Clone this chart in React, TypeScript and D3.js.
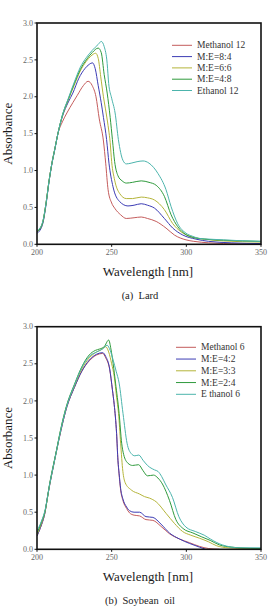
import React from "react";
import * as d3 from "d3";

type Pt = [number, number];

// ---- Lard (a) ----
const lardMethanol12: Pt[] = [
  [200, 0.17], [202, 0.21], [204, 0.31], [206, 0.55], [208, 0.85], [210, 1.1], [212, 1.3],
  [214, 1.5], [217, 1.66], [220, 1.78], [224, 1.92], [227, 2.02], [231, 2.15], [234.2, 2.21],
  [237, 2.15], [239.5, 2.0], [241.7, 1.7], [244.5, 1.4], [246, 1.1], [247.6, 0.74], [250, 0.56],
  [252, 0.49], [256, 0.4], [259.8, 0.35], [265, 0.36], [269.8, 0.37], [274, 0.35], [279.8, 0.31],
  [286.4, 0.22], [292, 0.126], [299.8, 0.06], [305, 0.04], [315, 0.02], [325, 0.01], [350, 0.0],
];
const lardME84: Pt[] = [
  [200, 0.15], [202, 0.19], [204, 0.29], [206, 0.53], [208, 0.84], [210, 1.09], [212, 1.29],
  [214, 1.5], [217, 1.73], [221, 1.93], [224, 2.05], [228, 2.25], [232, 2.38], [235, 2.44],
  [237.1, 2.46], [239, 2.38], [241, 2.15], [243, 1.92], [244.5, 1.72], [246.6, 1.42], [248.2, 1.1],
  [250.9, 0.78], [255.3, 0.58], [260.9, 0.52], [265, 0.53], [269.8, 0.55], [274, 0.53],
  [278.7, 0.49], [285.3, 0.35], [290.9, 0.22], [297.6, 0.126], [306.4, 0.07], [315, 0.04],
  [330, 0.02], [350, 0.01],
];
const lardME66: Pt[] = [
  [200, 0.17], [202, 0.21], [204, 0.31], [206, 0.55], [208, 0.85], [210, 1.1], [212, 1.3],
  [214, 1.5], [217, 1.74], [221, 1.96], [225, 2.16], [229, 2.35], [233, 2.48], [236, 2.55],
  [239.3, 2.59], [241, 2.52], [242.7, 2.27], [244.5, 2.0], [246.3, 1.78], [248, 1.55],
  [249, 1.38], [250, 1.12], [252, 0.87], [255.3, 0.69], [259.8, 0.62], [264, 0.62], [269.8, 0.64],
  [274, 0.63], [278.7, 0.6], [285.3, 0.47], [290.9, 0.28], [296.4, 0.17], [304, 0.1], [312, 0.07],
  [325, 0.045], [350, 0.03],
];
const lardME48: Pt[] = [
  [200, 0.17], [202, 0.21], [204, 0.31], [206, 0.55], [208, 0.85], [210, 1.1], [212, 1.3],
  [214, 1.5], [217, 1.75], [221, 1.97], [225, 2.18], [229, 2.37], [233, 2.5], [237, 2.6],
  [241, 2.66], [243, 2.6], [245, 2.3], [247, 2.05], [249, 1.72], [250.5, 1.42], [252, 1.12],
  [254.2, 0.93], [257, 0.86], [259.8, 0.83], [264, 0.84], [269.8, 0.86], [275, 0.84], [279.8, 0.8],
  [285.3, 0.65], [289.8, 0.4], [294.2, 0.24], [299.8, 0.13], [305, 0.09], [312, 0.07],
  [325, 0.055], [350, 0.04],
];
const lardEthanol12: Pt[] = [
  [200, 0.19], [202, 0.22], [204, 0.32], [206, 0.55], [208, 0.85], [210, 1.1], [212, 1.3],
  [214, 1.5], [217, 1.75], [221, 1.98], [225, 2.2], [229, 2.4], [233, 2.53], [237, 2.63],
  [241, 2.71], [243, 2.75], [245, 2.68], [247, 2.45], [248, 2.18], [250, 1.98], [252.3, 1.78],
  [254.5, 1.42], [257.5, 1.14], [259.8, 1.09], [263, 1.1], [267, 1.12], [271, 1.13], [275, 1.1],
  [281, 0.96], [286.4, 0.74], [289.8, 0.51], [294.2, 0.28], [299.8, 0.15], [304, 0.11],
  [308.7, 0.08], [315, 0.07], [325, 0.06], [335, 0.05], [350, 0.04],
];

// ---- Soybean oil (b) ----
const soyMethanol6: Pt[] = [
  [200, 0.18], [201.3, 0.24], [203, 0.33], [205.3, 0.49], [207, 0.7], [208.7, 0.89], [211, 1.12],
  [213, 1.32], [216, 1.6], [220, 1.92], [225, 2.18], [230, 2.4], [235, 2.54], [240, 2.62],
  [244, 2.64], [246, 2.58], [248.7, 2.42], [250.5, 2.15], [251.7, 1.95], [253.3, 1.56],
  [254.2, 1.2], [255, 1.0], [256, 0.8], [257.5, 0.66], [260, 0.55], [262, 0.49], [265, 0.46],
  [268.7, 0.45], [273, 0.4], [277.6, 0.39], [283, 0.31], [288.7, 0.21], [295.3, 0.14],
  [302, 0.09], [308.7, 0.04], [315, 0.01], [322, 0.0],
];
const soyME42: Pt[] = [
  [200, 0.18], [201.3, 0.24], [203, 0.33], [205.3, 0.49], [207, 0.7], [208.7, 0.89], [211, 1.12],
  [213, 1.32], [216, 1.6], [220, 1.92], [225, 2.18], [230, 2.4], [235, 2.55], [240, 2.63],
  [244, 2.65], [246, 2.6], [248.7, 2.43], [250.5, 2.15], [251.7, 1.95], [253.3, 1.56],
  [254.2, 1.2], [255, 1.02], [256, 0.82], [257.5, 0.68], [260, 0.57], [262, 0.52], [265, 0.5],
  [268.7, 0.5], [273, 0.44], [277.6, 0.43], [283, 0.34], [288.7, 0.22], [295.3, 0.14],
  [302, 0.08], [308.7, 0.03], [313, 0.0],
];
const soyME33: Pt[] = [
  [200, 0.2], [201.3, 0.26], [203, 0.35], [205.3, 0.5], [208.7, 0.9], [213, 1.32], [216, 1.62],
  [220, 1.94], [225, 2.2], [230, 2.43], [235, 2.58], [240, 2.66], [243, 2.69], [246, 2.73],
  [248, 2.66], [250, 2.5], [251.7, 2.33], [253.3, 2.05], [254.6, 1.83], [256, 1.43],
  [257.5, 1.05], [259, 0.9], [263.1, 0.8], [268.7, 0.745], [272, 0.71], [275.3, 0.69],
  [279.8, 0.64], [286.4, 0.485], [292, 0.35], [297.5, 0.24], [303, 0.19], [308.7, 0.15],
  [315, 0.1], [320, 0.05], [328, 0.02], [340, 0.01], [350, 0.01],
];
const soyME24: Pt[] = [
  [200, 0.22], [201.3, 0.28], [203, 0.37], [205.3, 0.51], [208.7, 0.91], [213, 1.33], [216, 1.63],
  [220, 1.95], [225, 2.22], [230, 2.46], [235, 2.62], [239, 2.68], [242, 2.7], [245, 2.73],
  [248, 2.82], [249.5, 2.7], [251, 2.5], [252.6, 2.24], [255, 1.83], [256.7, 1.43], [258, 1.28],
  [260.9, 1.16], [264, 1.13], [268, 1.14], [271, 1.06], [274, 0.99], [278, 1.0], [281, 0.96],
  [284, 0.88], [288.7, 0.66], [293, 0.4], [297.8, 0.28], [304.4, 0.22], [310, 0.17], [316, 0.12],
  [322, 0.06], [330, 0.03], [336, 0.02], [350, 0.01],
];
const soyEthanol6: Pt[] = [
  [200, 0.25], [201.3, 0.3], [203, 0.38], [205.3, 0.52], [208.7, 0.9], [213, 1.32], [216, 1.62],
  [220, 1.94], [225, 2.21], [230, 2.45], [235, 2.6], [240, 2.66], [244, 2.7], [247, 2.75],
  [249, 2.68], [251, 2.55], [253, 2.4], [255, 2.24], [257.6, 1.83], [260.3, 1.43], [263.1, 1.29],
  [265.5, 1.26], [268.2, 1.27], [271, 1.2], [274, 1.13], [278.7, 1.07], [281, 1.05],
  [283.5, 0.98], [286, 0.88], [290.7, 0.7], [295, 0.44], [299.7, 0.3], [306, 0.24], [312, 0.19],
  [316, 0.14], [324, 0.06], [336, 0.02], [350, 0.02],
];

const lardLabels = ["Methanol 12", "M:E=8:4", "M:E=6:6", "M:E=4:8", "Ethanol 12"];
const soyLabels = ["Methanol 6", "M:E=4:2", "M:E=3:3", "M:E=2:4", "E thanol 6"];
const colors = ["#c45c5c", "#3c3cb4", "#b4b43a", "#2f9a3c", "#4cb4ac"];

const xTicks = [200, 250, 300, 350];
const yTicks = [0, 0.5, 1, 1.5, 2, 2.5, 3];

const serif = "Liberation Serif, Times New Roman, serif";

interface PanelProps {
  id: string;
  top: number;
  bottom: number;
  series: Pt[][];
  labels: string[];
  legendX: number;
  legendY: number;
  legendGap: number;
  caption: string;
}

function Panel({ id, top, bottom, series, labels, legendX, legendY, legendGap, caption }: PanelProps) {
  const left = 37;
  const right = 261;
  const x = d3.scaleLinear().domain([200, 350]).range([left, right]);
  const y = d3.scaleLinear().domain([0, 3]).range([bottom, top]);
  const line = d3
    .line<Pt>()
    .x((d) => x(d[0]))
    .y((d) => y(d[1]))
    .curve(d3.curveMonotoneX);

  return (
    <g style={{ fontFamily: serif }}>
      <defs>
        <clipPath id={id}>
          <rect x={left} y={top} width={right - left} height={bottom - top} />
        </clipPath>
      </defs>
      <g clipPath={`url(#${id})`}>
        {series.map((s, i) => (
          <path key={i} d={line(s) ?? ""} fill="none" stroke={colors[i]} strokeWidth={1} />
        ))}
      </g>
      <rect x={left} y={top} width={right - left} height={bottom - top} fill="none" stroke="#111" strokeWidth={1.6} />
      {yTicks.map((t) => (
        <g key={t}>
          <line x1={left - 2.5} x2={left} y1={y(t)} y2={y(t)} stroke="#111" strokeWidth={1} />
          <text x={left - 4} y={y(t)} dy="0.33em" textAnchor="end" fontSize={8} fill="#666">
            {t.toFixed(1)}
          </text>
        </g>
      ))}
      {xTicks.map((t) => (
        <g key={t}>
          <line x1={x(t)} x2={x(t)} y1={bottom} y2={bottom + 2.5} stroke="#111" strokeWidth={1} />
          <text x={x(t)} y={bottom + 11} textAnchor="middle" fontSize={8} fill="#666">
            {t}
          </text>
        </g>
      ))}
      <text x={(left + right) / 2 - 1} y={bottom + 32} textAnchor="middle" fontSize={13} fill="#1a1a1a">
        Wavelength [nm]
      </text>
      <text
        transform={`translate(12,${(top + bottom) / 2}) rotate(-90)`}
        textAnchor="middle"
        fontSize={13}
        fill="#1a1a1a"
      >
        Absorbance
      </text>
      {labels.map((lab, i) => (
        <g key={lab}>
          <line
            x1={legendX}
            x2={legendX + 20}
            y1={legendY + i * legendGap}
            y2={legendY + i * legendGap}
            stroke={colors[i]}
            strokeWidth={1}
          />
          <text x={legendX + 25} y={legendY + i * legendGap} dy="0.33em" fontSize={9.5} fill="#333">
            {lab}
          </text>
        </g>
      ))}
      <text
        x={(left + right) / 2 - 9}
        y={bottom + 55}
        textAnchor="middle"
        fontSize={10.5}
        fill="#222"
        style={{ whiteSpace: "pre" }}
      >
        {caption}
      </text>
    </g>
  );
}

export default function App() {
  return (
    <svg
      width={271}
      height={608}
      style={{ position: "absolute", left: 0, top: 0, background: "#fff" }}
    >
      <Panel
        id="clipA"
        top={23}
        bottom={244.3}
        series={[lardMethanol12, lardME84, lardME66, lardME48, lardEthanol12]}
        labels={lardLabels}
        legendX={172}
        legendY={45.3}
        legendGap={11.3}
        caption="(a)  Lard"
      />
      <Panel
        id="clipB"
        top={326.7}
        bottom={549.3}
        series={[soyMethanol6, soyME42, soyME33, soyME24, soyEthanol6]}
        labels={soyLabels}
        legendX={176}
        legendY={347.3}
        legendGap={11.75}
        caption="(b)  Soybean  oil"
      />
    </svg>
  );
}
